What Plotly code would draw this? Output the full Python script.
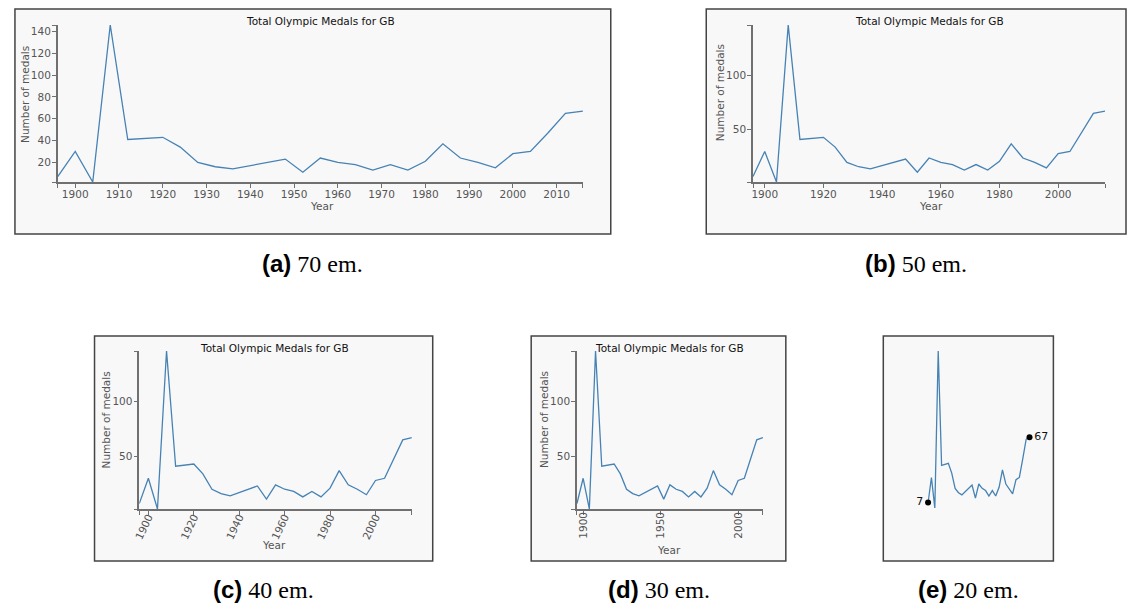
import plotly.graph_objects as go

# Great Britain, total Summer Olympic medals per Games
years = [1896, 1900, 1904, 1908, 1912, 1920, 1924, 1928, 1932, 1936,
         1948, 1952, 1956, 1960, 1964, 1968, 1972, 1976, 1980, 1984,
         1988, 1992, 1996, 2000, 2004, 2008, 2012, 2016]
medals = [7, 30, 2, 146, 41, 43, 34, 20, 16, 14,
          23, 11, 24, 20, 18, 13, 18, 13, 21, 37,
          24, 20, 15, 28, 30, 47, 65, 67]

title_text = "Total Olympic Medals for GB"
x_title = "Year"
y_title = "Number of medals"

# tick sets for each width variant
xticks_a = [1900, 1910, 1920, 1930, 1940, 1950, 1960, 1970, 1980, 1990, 2000, 2010]
yticks_a = [20, 40, 60, 80, 100, 120, 140]
xticks_b = [1900, 1920, 1940, 1960, 1980, 2000]
yticks_b = [50, 100]
xticks_c = [1900, 1920, 1940, 1960, 1980, 2000]
yticks_c = [50, 100]
xticks_d = [1900, 1950, 2000]
yticks_d = [50, 100]

captions = [("(a)", "70 em."), ("(b)", "50 em."), ("(c)", "40 em."),
            ("(d)", "30 em."), ("(e)", "20 em.")]

W, H = 1127, 606
LINE = "#4682b4"
AXIS = "#707070"
TXT = "#555555"
FONT = "DejaVu Sans"
FS = 10.5

x_lo, x_hi = min(years), max(years)
y_lo, y_hi = min(medals), max(medals)


def fx(p):
    return p / W


def fy(p):
    return 1 - p / H


# layout geometry in pixels: panel box, plot area, text anchors
panels = [
    dict(box=(9, 9, 608, 234), plot=(52, 25, 580, 182), title=(316, 21),
         ylab=(19, 94), xlab=(318, 206), xt=xticks_a, yt=yticks_a, angle=0,
         xoff=-2, cap=(308, 264)),
    dict(box=(704, 9, 1126, 234), plot=(751, 25, 1105, 182), title=(928, 21),
         ylab=(718, 93), xlab=(930, 206), xt=xticks_b, yt=yticks_b, angle=0,
         xoff=-2, cap=(915, 264)),
    dict(box=(89, 336, 429, 561), plot=(134, 351, 408, 509), title=(270, 348),
         ylab=(101, 420), xlab=(269, 545), xt=xticks_c, yt=yticks_c, angle=-65,
         xoff=-8, cap=(259, 589)),
    dict(box=(528, 336, 784, 561), plot=(574, 351, 761, 509), title=(667, 348),
         ylab=(541, 420), xlab=(667, 550), xt=xticks_d, yt=yticks_d, angle=-90,
         xoff=-7, cap=(656, 589)),
    dict(box=(882, 336, 1053, 561), plot=(927, 351, 1029, 508), title=None,
         ylab=None, xlab=None, xt=None, yt=None, angle=0,
         xoff=0, cap=(968, 589)),
]

fig = go.Figure()
shapes = []
annotations = []
layout_axes = {}

for i, p in enumerate(panels, start=1):
    sfx = "" if i == 1 else str(i)
    xa, ya = "x" + sfx, "y" + sfx
    bx0, by0, bx1, by1 = p["box"]
    shapes.append(dict(type="rect", xref="paper", yref="paper",
                       x0=fx(bx0), x1=fx(bx1), y0=fy(by1), y1=fy(by0),
                       fillcolor="#f8f8f8", line=dict(color="#444444", width=1.5),
                       layer="below"))

    fig.add_trace(go.Scatter(x=years, y=medals, mode="lines",
                             line=dict(color=LINE, width=1.3),
                             xaxis=xa, yaxis=ya, hoverinfo="skip",
                             cliponaxis=False, showlegend=False))

    px0, py0, px1, py1 = p["plot"]
    xdom = [fx(px0), fx(px1)]
    ydom = [fy(py1), fy(py0)]

    if p["xt"] is None:
        # compact variant: only the end points are marked and labelled
        fig.add_trace(go.Scatter(x=[years[0], years[-1]], y=[medals[0], medals[-1]],
                                 mode="markers+text",
                                 marker=dict(color="black", size=6),
                                 text=[str(medals[0]), str(medals[-1])],
                                 textposition=["middle left", "middle right"],
                                 textfont=dict(family=FONT, size=11, color="#111"),
                                 xaxis=xa, yaxis=ya, hoverinfo="skip",
                                 cliponaxis=False, showlegend=False))
        layout_axes["xaxis" + sfx] = dict(domain=xdom, range=[x_lo, x_hi],
                                         visible=False, anchor=ya)
        layout_axes["yaxis" + sfx] = dict(domain=ydom, range=[y_lo, y_hi],
                                         visible=False, anchor=xa)
    else:
        xv = [x_lo] + p["xt"] + [x_hi]
        xl = [""] + [str(v) for v in p["xt"]] + [""]
        yv = [y_lo] + p["yt"] + [y_hi]
        yl = [""] + [str(v) for v in p["yt"]] + [""]
        common = dict(showline=True, linecolor=AXIS, linewidth=1.5,
                      ticks="outside", ticklen=4, tickwidth=1.2, tickcolor=AXIS,
                      showgrid=False, zeroline=False,
                      tickfont=dict(family=FONT, size=FS, color=TXT))
        layout_axes["xaxis" + sfx] = dict(domain=xdom, range=[x_lo, x_hi],
                                         tickmode="array", tickvals=xv, ticktext=xl,
                                         tickangle=p["angle"], anchor=ya,
                                         ticklabelstandoff=p["xoff"], **common)
        layout_axes["yaxis" + sfx] = dict(domain=ydom, range=[y_lo, y_hi],
                                         tickmode="array", tickvals=yv, ticktext=yl,
                                         anchor=xa, ticklabelstandoff=-1, **common)

        tx, ty = p["title"]
        annotations.append(dict(text=title_text, xref="paper", yref="paper",
                                x=fx(tx), y=fy(ty), showarrow=False,
                                xanchor="center", yanchor="middle",
                                font=dict(family=FONT, size=FS, color="#111")))
        lx, ly = p["ylab"]
        annotations.append(dict(text=y_title, xref="paper", yref="paper",
                                x=fx(lx), y=fy(ly), showarrow=False, textangle=-90,
                                xanchor="center", yanchor="middle",
                                font=dict(family=FONT, size=FS, color=TXT)))
        xx, xy = p["xlab"]
        annotations.append(dict(text=x_title, xref="paper", yref="paper",
                                x=fx(xx), y=fy(xy), showarrow=False,
                                xanchor="center", yanchor="middle",
                                font=dict(family=FONT, size=FS, color=TXT)))

    cx, cy = p["cap"]
    tag, rest = captions[i - 1]
    annotations.append(dict(
        text='<span style="font-family:Liberation Sans;font-weight:bold">' + tag +
             "</span> " + rest,
        xref="paper", yref="paper", x=fx(cx), y=fy(cy), showarrow=False,
        xanchor="center", yanchor="middle",
        font=dict(family="Liberation Serif", size=24, color="#000")))

fig.update_layout(width=W, height=H, margin=dict(l=0, r=0, t=0, b=0),
                  paper_bgcolor="white", plot_bgcolor="rgba(0,0,0,0)",
                  shapes=shapes, annotations=annotations, showlegend=False,
                  **layout_axes)

fig.write_html("out.html")
